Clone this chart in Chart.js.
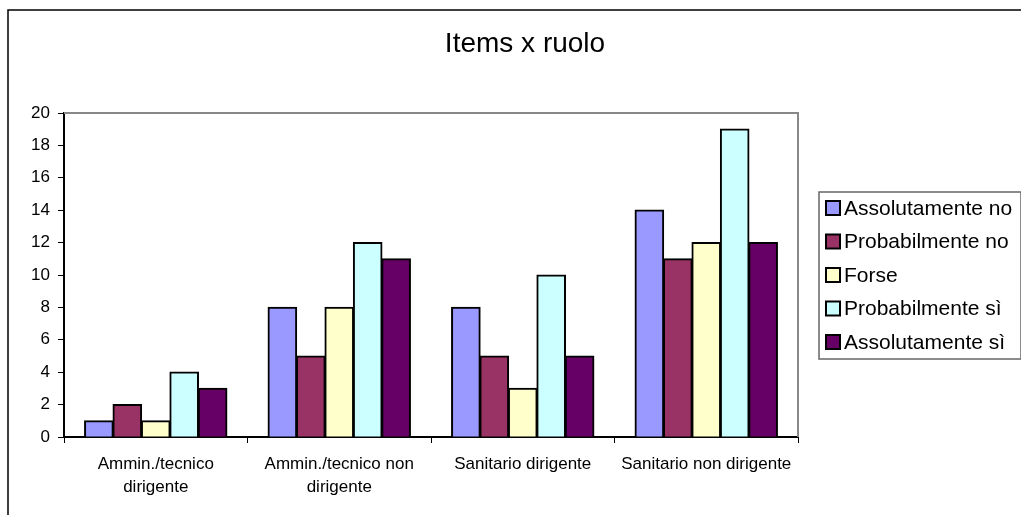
<!DOCTYPE html>
<html>
<head>
<meta charset="utf-8">
<title>Items x ruolo</title>
<script src="https://cdn.jsdelivr.net/npm/chart.js@4/dist/chart.umd.min.js"></script>
<style>
  html, body { margin: 0; padding: 0; background: #fff; }
  canvas { display: block; }
</style>
</head>
<body>
<canvas id="chart" width="1021" height="515"></canvas>
<script>
// Chart content
const chartTitle = 'Items x ruolo';
const categories = [
  ['Ammin./tecnico', 'dirigente'],
  ['Ammin./tecnico non', 'dirigente'],
  'Sanitario dirigente',
  'Sanitario non dirigente'
];
const seriesNames = ['Assolutamente no', 'Probabilmente no', 'Forse', 'Probabilmente sì', 'Assolutamente sì'];
const assolutamenteNo = [1, 8, 8, 14];
const probabilmenteNo = [2, 5, 5, 11];
const forse = [1, 8, 3, 12];
const probabilmenteSi = [4, 12, 10, 19];
const assolutamenteSi = [3, 11, 5, 12];
const seriesColors = ['#9999FF', '#993366', '#FFFFCC', '#CCFFFF', '#660066'];
const yTicks = { min: 0, max: 20, step: 2 };

const FONT = "'Liberation Sans', Arial, sans-serif";
const seriesValues = [assolutamenteNo, probabilmenteNo, forse, probabilmenteSi, assolutamenteSi];

// Outer frame, plot-area frame and title
const framePlugin = {
  id: 'frame',
  beforeDraw(chart) {
    const ctx = chart.ctx;
    ctx.save();
    ctx.fillStyle = '#fff';
    ctx.fillRect(0, 0, chart.width, chart.height);
    ctx.strokeStyle = '#000';
    ctx.lineWidth = 1.5;
    ctx.strokeRect(8, 10, chart.width + 20, chart.height + 20);
    ctx.fillStyle = '#000';
    ctx.font = '28px ' + FONT;
    ctx.textAlign = 'center';
    ctx.textBaseline = 'alphabetic';
    ctx.fillText(chartTitle, 525, 52);
    ctx.restore();
  },
  beforeDatasetsDraw(chart) {
    const { ctx, chartArea: a } = chart;
    ctx.save();
    ctx.strokeStyle = '#888';
    ctx.lineWidth = 2;
    ctx.beginPath();
    ctx.moveTo(a.left, a.top);
    ctx.lineTo(a.right, a.top);
    ctx.lineTo(a.right, a.bottom);
    ctx.stroke();
    ctx.restore();
  }
};

// Boxed legend at the right of the plot area
const boxLegendPlugin = {
  id: 'boxLegend',
  afterDraw(chart) {
    const ctx = chart.ctx;
    const x = 819, y = 192, w = 202, h = 167;
    ctx.save();
    ctx.strokeStyle = '#666';
    ctx.lineWidth = 1.5;
    ctx.strokeRect(x, y, w, h);
    ctx.font = '21px ' + FONT;
    ctx.textBaseline = 'middle';
    ctx.textAlign = 'left';
    chart.data.datasets.forEach((ds, i) => {
      const cy = 208 + i * 33.5;
      ctx.fillStyle = ds.backgroundColor;
      ctx.fillRect(826, cy - 7, 14, 14);
      ctx.strokeStyle = '#000';
      ctx.lineWidth = 2;
      ctx.strokeRect(826, cy - 7, 14, 14);
      ctx.fillStyle = '#000';
      ctx.fillText(ds.label, 844, cy + 1);
    });
    ctx.restore();
  }
};

new Chart(document.getElementById('chart'), {
  type: 'bar',
  data: {
    labels: categories,
    datasets: seriesNames.map((name, i) => ({
      label: name,
      data: seriesValues[i],
      backgroundColor: seriesColors[i],
      borderColor: '#000',
      borderWidth: 2,
      inflateAmount: 0.6,
      categoryPercentage: 0.775,
      barPercentage: 1
    }))
  },
  options: {
    responsive: false,
    devicePixelRatio: 1,
    animation: false,
    layout: { padding: { top: 113, right: 223, left: 0, bottom: 0 } },
    plugins: {
      legend: { display: false },
      title: { display: false },
      tooltip: { enabled: false }
    },
    scales: {
      x: {
        afterFit(scale) { scale.height = 78; },
        grid: { drawOnChartArea: false, drawTicks: true, tickLength: 6, color: '#000', lineWidth: 1, offset: true },
        border: { display: true, color: '#000', width: 2 },
        ticks: { color: '#000', font: { family: FONT, size: 17, lineHeight: 1.35 }, padding: 10, maxRotation: 0, autoSkip: false }
      },
      y: {
        min: yTicks.min,
        max: yTicks.max,
        afterFit(scale) { scale.width = 64; },
        grid: { drawOnChartArea: false, drawTicks: true, tickLength: 6, color: '#000', lineWidth: 1 },
        border: { display: true, color: '#000', width: 2 },
        ticks: { stepSize: yTicks.step, color: '#000', font: { family: FONT, size: 17 }, padding: 8 }
      }
    }
  },
  plugins: [framePlugin, boxLegendPlugin]
});
</script>
</body>
</html>
